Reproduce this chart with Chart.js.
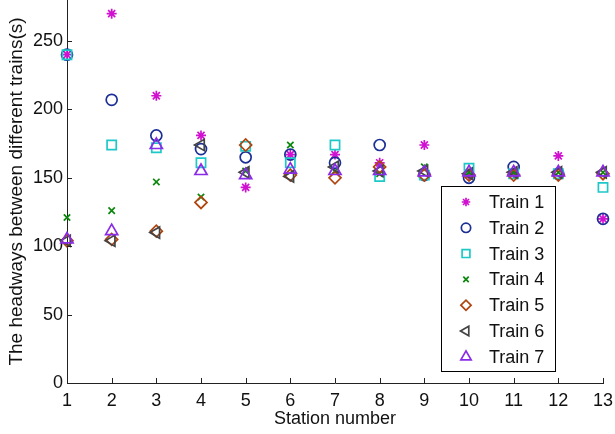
<!DOCTYPE html>
<html>
<head>
<meta charset="utf-8">
<script src="https://cdn.jsdelivr.net/npm/chart.js@4.4.0/dist/chart.umd.min.js"></script>
<style>
  body { margin: 0; background: #fff; }
  #wrap { width: 615px; height: 434px; position: relative; }
</style>
</head>
<body>
<div id="wrap"><canvas id="chart"></canvas></div>
<script>
const stations = [1, 2, 3, 4, 5, 6, 7, 8, 9, 10, 11, 12, 13];
const yTicks = [0, 50, 100, 150, 200, 250];
const trainNames = ['Train 1', 'Train 2', 'Train 3', 'Train 4', 'Train 5', 'Train 6', 'Train 7'];

const train1 = [240, 270, 210, 181, 143, 167, 167, 161, 174, 152, 153, 166, 120];
const train2 = [240, 207, 181, 171, 165, 167, 161, 174, 152, 150, 158, 153, 120];
const train3 = [240, 174, 172, 161, 173, 161, 174, 151, 152, 157, 153, 153, 143];
const train4 = [121, 126, 147, 136, 155, 174, 155, 153, 158, 154, 154, 154, 154];
const train5 = [104, 105, 111, 132, 174, 152, 150, 158, 152, 152, 152, 152, 153];
const train6 = [104, 104, 110, 174, 154, 151, 158, 155, 155, 153, 154, 154, 154];
const train7 = [105, 111, 174, 155, 152, 156, 155, 155, 154, 154, 154, 154, 154];

// marker styles like the matlab ones: * o s x d < ^
const styles = [
  { color: '#d012d0', pointStyle: 'star', radius: 5, rotation: 0 },
  { color: '#1c2f96', pointStyle: 'circle', radius: 5.5, rotation: 0 },
  { color: '#1ec8c8', pointStyle: 'rect', radius: 6.5, rotation: 0 },
  { color: '#0b870b', pointStyle: 'crossRot', radius: 4.5, rotation: 0 },
  { color: '#b0440e', pointStyle: 'rectRot', radius: 6, rotation: 0 },
  { color: '#444444', pointStyle: 'triangle', radius: 6.5, rotation: -90 },
  { color: '#8a2be8', pointStyle: 'triangle', radius: 7, rotation: 0 }
];

const allTrains = [train1, train2, train3, train4, train5, train6, train7];
const FONT = "'Liberation Sans', Arial, Helvetica, sans-serif";

const datasets = allTrains.map((values, i) => ({
  label: trainNames[i],
  data: values.map((v, j) => ({ x: stations[j], y: v })),
  showLine: false,
  clip: false,
  order: 7 - i,
  pointStyle: styles[i].pointStyle,
  pointRadius: styles[i].radius,
  pointRotation: styles[i].rotation,
  pointBorderWidth: 1.7,
  pointBorderColor: styles[i].color,
  pointBackgroundColor: 'rgba(0,0,0,0)',
  borderColor: styles[i].color,
  backgroundColor: 'rgba(0,0,0,0)'
}));

// inward tick marks
const innerTicks = {
  id: 'innerTicks',
  afterDraw(chart) {
    const ctx = chart.ctx;
    const x = chart.scales.x, y = chart.scales.y;
    ctx.save();
    ctx.strokeStyle = '#222';
    ctx.lineWidth = 1;
    ctx.beginPath();
    stations.forEach(s => {
      const px = Math.round(x.getPixelForValue(s)) + 0.5;
      ctx.moveTo(px, y.bottom);
      ctx.lineTo(px, y.bottom - 5);
    });
    yTicks.forEach(t => {
      const py = Math.round(y.getPixelForValue(t)) + 0.5;
      ctx.moveTo(x.left, py);
      ctx.lineTo(x.left + 5, py);
    });
    ctx.stroke();
    ctx.restore();
  }
};

// boxed legend inside the plot, bottom right
const boxLegend = {
  id: 'boxLegend',
  afterDraw(chart) {
    const ctx = chart.ctx;
    const left = 441.5, top = 186.5, w = 114, h = 185;
    ctx.save();
    ctx.fillStyle = '#fff';
    ctx.fillRect(left, top, w, h);
    ctx.strokeStyle = '#000';
    ctx.lineWidth = 1;
    ctx.strokeRect(left, top, w, h);
    ctx.font = '18px ' + FONT;
    ctx.textBaseline = 'middle';
    ctx.textAlign = 'left';
    chart.data.datasets.forEach((ds, i) => {
      const cy = 202 + i * 25.8;
      ctx.strokeStyle = ds.pointBorderColor;
      ctx.fillStyle = 'rgba(0,0,0,0)';
      ctx.lineWidth = 1.7;
      Chart.helpers.drawPoint(ctx, {
        pointStyle: ds.pointStyle,
        radius: ds.pointRadius * 0.85,
        rotation: ds.pointRotation,
        borderWidth: 1.7
      }, 466, cy);
      ctx.fillStyle = '#111';
      ctx.fillText(ds.label, 489, cy + 1);
    });
    ctx.restore();
  }
};

new Chart(document.getElementById('chart'), {
  type: 'scatter',
  data: { datasets },
  plugins: [innerTicks, boxLegend],
  options: {
    responsive: true,
    maintainAspectRatio: false,
    animation: false,
    layout: { autoPadding: false, padding: { left: 0, right: 12, top: 0, bottom: 0 } },
    plugins: {
      legend: { display: false },
      tooltip: { enabled: false }
    },
    scales: {
      x: {
        type: 'linear',
        min: 1,
        max: 13,
        afterBuildTicks: scale => { scale.ticks = stations.map(v => ({ value: v })); },
        afterFit: scale => {
          scale.height = 51;
          scale.paddingLeft = 0;
          scale.paddingRight = 0;
        },
        grid: { display: false, drawTicks: false },
        border: { display: true, color: '#222', width: 1 },
        ticks: { color: '#111', padding: 7, maxRotation: 0, font: { family: FONT, size: 18 } },
        title: { display: true, text: 'Station number', color: '#111', padding: { top: 0, bottom: 4 }, font: { family: FONT, size: 18 } }
      },
      y: {
        min: 0,
        max: 280,
        afterBuildTicks: scale => { scale.ticks = yTicks.map(v => ({ value: v })); },
        afterFit: scale => {
          scale.width = 67;
          scale.paddingTop = 0;
          scale.paddingBottom = 0;
        },
        grid: { display: false, drawTicks: false },
        border: { display: true, color: '#222', width: 1 },
        ticks: { color: '#111', padding: 4, font: { family: FONT, size: 18 } },
        title: { display: true, text: 'The headways between different trains(s)', color: '#111', padding: { top: 5, bottom: 0 }, font: { family: FONT, size: 19 } }
      }
    }
  }
});
</script>
</body>
</html>
